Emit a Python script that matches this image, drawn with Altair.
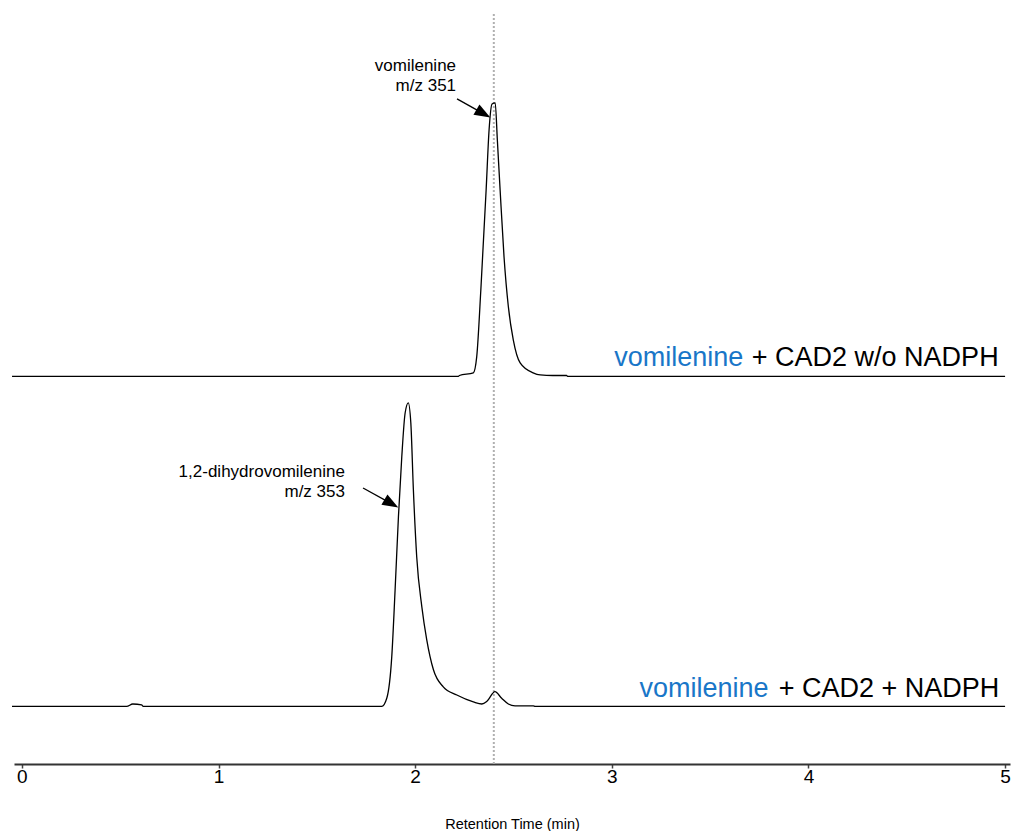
import altair as alt
import pandas as pd

# Extracted-ion chromatograms: retention time (min) and relative intensity
rt_no_nadph = [-0.05, 2.22, 2.225, 2.296, 2.313, 2.334, 2.361, 2.376, 2.391, 2.407,
               2.418, 2.432, 2.452, 2.474, 2.499, 2.534, 2.600, 2.636, 2.70, 2.77,
               2.775, 5.0]
int_no_nadph = [0, 0, 0.3, 1.2, 6.5, 28.8, 62.2, 82.2, 90.8, 91.2,
                78.8, 62.2, 39.8, 23.2, 12.2, 4.5, 1.2, 0.5, 0.3, 0.3,
                0, 0]

rt_nadph = [-0.05, 0.533, 0.564, 0.609, 0.617, 1.830, 1.856, 1.881, 1.898, 1.915,
            1.932, 1.949, 1.965, 1.978, 1.991, 2.008, 2.034, 2.059, 2.093, 2.143,
            2.212, 2.296, 2.339, 2.364, 2.406, 2.440, 2.474, 2.508, 2.601, 2.61,
            5.0]
int_nadph = [0, 0, 0.8, 0.5, 0, 0, 2.8, 16.5, 38.8, 63.2,
             83.2, 97.8, 101.2, 94.5, 72.2, 49.8, 33.2, 22.2, 12.2, 6.5,
             3.8, 1.5, 0.8, 1.6, 4.9, 2.7, 0.8, 0.2, 0.2, 0,
             0]

# vertical stacking of the two traces
offset_no_nadph = 129.2
offset_nadph = 19.2

# reference retention time of vomilenine
ref_rt = [2.40]

# peak annotations
peak_labels = [["vomilenine", "m/z 351"], ["1,2-dihydrovomilenine", "m/z 353"]]
peak_label_x = [2.208, 1.643]
peak_label_y = [231.0, 95.6]
arrow_x0 = [2.213, 1.735]
arrow_y0 = [221.7, 92.0]
arrow_x1 = [2.347, 1.879]
arrow_y1 = [216.8, 86.8]

# sample labels (blue substrate name + black remainder)
sample_substrate = ["vomilenine", "vomilenine"]
sample_rest = ["+ CAD2 w/o NADPH", "+ CAD2 + NADPH"]
sample_x_blue = [3.669, 3.797]
sample_x_rest = [3.712, 3.849]
sample_y = [132.7, 22.4]

traces = pd.concat([
    pd.DataFrame({"rt": rt_no_nadph,
                  "signal": [v + offset_no_nadph for v in int_no_nadph],
                  "trace": "no_nadph"}),
    pd.DataFrame({"rt": rt_nadph,
                  "signal": [v + offset_nadph for v in int_nadph],
                  "trace": "nadph"}),
])

ann = pd.DataFrame({
    "label": peak_labels,
    "lx": peak_label_x, "ly": peak_label_y,
    "x0": arrow_x0, "y0": arrow_y0, "x1": arrow_x1, "y1": arrow_y1,
})
samples = pd.DataFrame({
    "sub": sample_substrate, "rest": sample_rest,
    "xb": sample_x_blue, "xr": sample_x_rest, "y": sample_y,
})

FONT = "Liberation Sans"
x_scale = alt.Scale(domain=[-0.04, 5.025], nice=False, zero=False)
y_scale = alt.Scale(domain=[0, 250], nice=False, zero=False)
x_axis = alt.Axis(
    values=[0, 0.5, 1, 1.5, 2, 2.5, 3, 3.5, 4, 4.5, 5],
    format="d",
    labelExpr="datum.value % 1 === 0 ? datum.label : ''",
    title="Retention Time (min)",
    titleFont=FONT, titleFontSize=14.5, titleFontWeight="normal", titleColor="black",
    titleY=64, titleBaseline="alphabetic",
    labelFont=FONT, labelFontSize=19, labelColor="black",
    labelBaseline="alphabetic", labelPadding=14,
    labelFlush=False, labelOverlap=False,
    tickSize=4, tickColor="#444444", tickWidth=1.5,
    domainColor="#333333", domainWidth=2, grid=False,
)


def X(field):
    return alt.X(field, type="quantitative", scale=x_scale, axis=x_axis)


def Y(field):
    return alt.Y(field, type="quantitative", scale=y_scale, axis=None)


ref_line = alt.Chart(pd.DataFrame({"rt": ref_rt})).mark_rule(
    color="#b0b0b0", strokeDash=[2, 2], strokeWidth=2
).encode(x=X("rt"))

lines = alt.Chart(traces).mark_line(
    color="black", strokeWidth=1.3, interpolate="monotone"
).encode(
    x=X("rt"), y=Y("signal"), detail="trace:N", order="rt:Q"
)

shafts = alt.Chart(ann).mark_rule(color="black", strokeWidth=1.3).encode(
    x=X("x0"), y=Y("y0"), x2="x1:Q", y2="y1:Q"
)

heads = alt.Chart(ann).mark_point(
    shape="M1,0L-1,-0.75L-1,0.75Z", filled=True, size=256, angle=30,
    color="black", opacity=1, strokeWidth=0
).encode(x=X("x1"), y=Y("y1"))

peak_text = alt.Chart(ann).mark_text(
    align="right", baseline="alphabetic", font=FONT, fontSize=17,
    lineHeight=19.5, color="black"
).encode(x=X("lx"), y=Y("ly"), text="label")

sub_text = alt.Chart(samples).mark_text(
    align="right", baseline="alphabetic", font=FONT, fontSize=27, color="#1976c8"
).encode(x=X("xb"), y=Y("y"), text="sub:N")

rest_text = alt.Chart(samples).mark_text(
    align="left", baseline="alphabetic", font=FONT, fontSize=27, color="black"
).encode(x=X("xr"), y=Y("y"), text="rest:N")

chart = alt.layer(
    ref_line, lines, shafts, heads, peak_text, sub_text, rest_text
).properties(
    width=996, height=750,
    autosize=alt.AutoSizeParams(type="none"),
    padding={"left": 14, "top": 14, "right": 2, "bottom": 67},
).configure_view(stroke=None)

chart.save("out.html", embed_options={"renderer": "svg", "actions": False})
